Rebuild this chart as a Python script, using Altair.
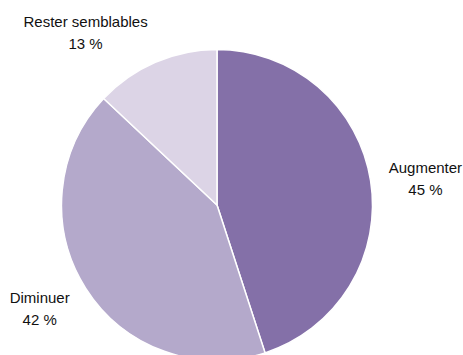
import altair as alt
import pandas as pd

categories = ["Augmenter", "Diminuer", "Rester semblables"]
values = [45, 42, 13]
pct_labels = ["45 %", "42 %", "13 %"]
colors = ["#8470A8", "#B4A9CB", "#DCD4E6"]

df = pd.DataFrame({
    "cat": categories,
    "value": values,
    "idx": list(range(len(categories))),
    "label": [[c, p] for c, p in zip(categories, pct_labels)],
})

CX, CY, R = 217, 205, 155.5
FONT = "Liberation Sans, Arial, sans-serif"

base = alt.Chart(df).encode(
    theta=alt.Theta("value:Q", stack=True),
    order=alt.Order("idx:Q", sort="ascending"),
)

pie = base.mark_arc(outerRadius=R, stroke="white", strokeWidth=1.5).encode(
    color=alt.Color("cat:N", scale=alt.Scale(domain=categories, range=colors), legend=None),
    x=alt.value(CX),
    y=alt.value(CY),
)

# per-label nudges (pixels) from the mid-angle position
nudges = {"Augmenter": (1, -4), "Diminuer": (0, -20), "Rester semblables": (-48, 10)}

layers = [pie]
for cat, (ddx, ddy) in nudges.items():
    layers.append(
        base.mark_text(
            radius=210, font=FONT, fontSize=15, lineHeight=22, align="center",
            baseline="middle", color="#111111", dx=ddx, dy=ddy,
        ).encode(
            text="label",
            x=alt.value(CX),
            y=alt.value(CY),
            opacity=alt.condition(alt.datum.cat == cat, alt.value(1), alt.value(0)),
        )
    )

chart = alt.layer(*layers).properties(
    width=463, height=355, autosize=alt.AutoSizeParams(type="none"), padding=0,
).configure_view(stroke=None)

chart.save("out.html", embed_options={"renderer": "svg", "actions": False})
